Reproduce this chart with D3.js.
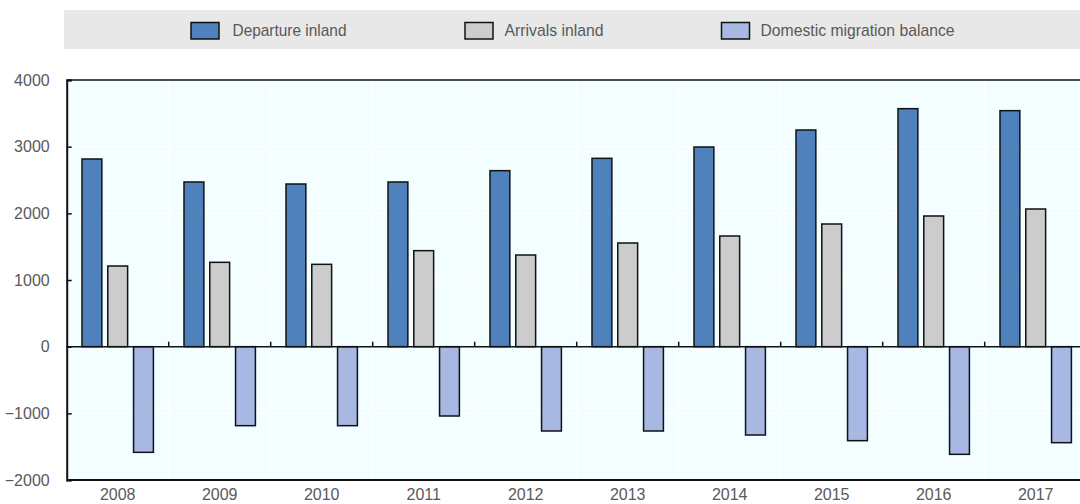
<!DOCTYPE html>
<html>
<head>
<meta charset="utf-8">
<script src="https://cdn.jsdelivr.net/npm/d3@7"></script>
<style>
  html, body { margin: 0; padding: 0; background: #fff; }
  svg { display: block; }
  text { font-family: "Liberation Sans Narrow", "Arial Narrow", "Liberation Sans", Arial, sans-serif; fill: #595959; }
</style>
</head>
<body>
<svg id="chart" width="1080" height="504"></svg>
<script>
const years = ['2008','2009','2010','2011','2012','2013','2014','2015','2016','2017'];
const departure = [2815, 2470, 2440, 2470, 2640, 2825, 2995, 3250, 3570, 3540];
const arrivals  = [1210, 1265, 1235, 1440, 1375, 1555, 1660, 1840, 1960, 2065];
const balance   = [-1585, -1185, -1185, -1040, -1265, -1265, -1325, -1410, -1615, -1440];
const seriesNames = ['Departure inland', 'Arrivals inland', 'Domestic migration balance'];
const seriesColors = ['#4F81BD', '#CCCCCC', '#A7B9E3'];
const yTicks = [-2000, -1000, 0, 1000, 2000, 3000, 4000];

const seriesValues = [departure, arrivals, balance];
const svg = d3.select('#chart');
const FONT = '"Liberation Sans Narrow", "Arial Narrow", "Liberation Sans", Arial, sans-serif';

const L = 66.7, T = 80, B = 480, R = 1086.7;

const x0 = d3.scaleBand().domain(years).range([L, R]).paddingInner(0.3).paddingOuter(0.15);
const x1 = d3.scaleBand().domain(seriesNames).range([0, x0.bandwidth()]).paddingInner(0.23).paddingOuter(0);
const y = d3.scaleLinear().domain([-2000, 4000]).range([B, T]);

// plot background
svg.append('rect').attr('x', L).attr('y', T).attr('width', R - L).attr('height', B - T).attr('fill', '#F2FEFF');

// gridlines
svg.append('g').selectAll('line').data(yTicks.filter(d => d !== 0 && d !== 4000 && d !== -2000)).join('line')
  .attr('x1', L).attr('x2', R).attr('y1', d => y(d)).attr('y2', d => y(d))
  .attr('stroke', '#ffffff').attr('stroke-width', 1.5);
const step = x0.step();
const bounds = years.slice(1).map(yr => x0(yr) - (step - x0.bandwidth()) / 2);
svg.append('g').selectAll('line').data(bounds).join('line')
  .attr('x1', d => d).attr('x2', d => d).attr('y1', T).attr('y2', B)
  .attr('stroke', '#ffffff').attr('stroke-width', 1.5);

// bars
const groups = svg.append('g').selectAll('g').data(years).join('g')
  .attr('transform', d => `translate(${x0(d)},0)`);
groups.selectAll('rect').data((yr, i) => seriesNames.map((s, k) => ({ s, v: seriesValues[k][i], k })))
  .join('rect')
  .attr('x', d => x1(d.s))
  .attr('width', x1.bandwidth())
  .attr('y', d => y(Math.max(0, d.v)))
  .attr('height', d => Math.abs(y(d.v) - y(0)))
  .attr('fill', d => seriesColors[d.k])
  .attr('stroke', '#111')
  .attr('stroke-width', 1.5);

// zero line with small ticks
svg.append('line').attr('x1', L).attr('x2', R).attr('y1', y(0)).attr('y2', y(0))
  .attr('stroke', '#111').attr('stroke-width', 1.5);
svg.append('g').selectAll('line').data(bounds).join('line')
  .attr('x1', d => d).attr('x2', d => d).attr('y1', y(0)).attr('y2', y(0) - 5)
  .attr('stroke', '#111').attr('stroke-width', 1.5);

// frame top / bottom
svg.append('line').attr('x1', L).attr('x2', R).attr('y1', T).attr('y2', T).attr('stroke', '#111').attr('stroke-width', 1.5);
svg.append('line').attr('x1', L).attr('x2', R).attr('y1', B).attr('y2', B).attr('stroke', '#111').attr('stroke-width', 2);

// y axis
const yAxis = d3.axisLeft(y).tickValues(yTicks).tickSize(-5).tickPadding(17).tickFormat(d3.format('d'));
const ya = svg.append('g').attr('transform', `translate(${L},0)`).call(yAxis);
ya.select('.domain').attr('stroke', '#111').attr('stroke-width', 2);
ya.selectAll('.tick line').attr('stroke', '#111').attr('stroke-width', 1.5);
ya.selectAll('.tick text').attr('font-size', 16).attr('fill', '#595959').style('font-family', FONT);

// x axis labels
const xAxis = d3.axisBottom(x0).tickSize(0).tickPadding(9);
const xa = svg.append('g').attr('transform', `translate(0,${B})`).call(xAxis);
xa.select('.domain').remove();
xa.selectAll('.tick text').attr('font-size', 16).attr('fill', '#595959').style('font-family', FONT);

// legend
svg.append('rect').attr('x', 64).attr('y', 10).attr('width', 1080 - 64).attr('height', 39).attr('fill', '#E8E8E8');
const legendSwatchX = [191, 465, 721.5];
const legendTextX = [232.5, 504.5, 760.5];
const legendTextW = [114, 99, 194];
const lg = svg.append('g').selectAll('g').data(seriesNames).join('g');
lg.append('rect')
  .attr('x', (d, i) => legendSwatchX[i]).attr('y', 22.5).attr('width', 28).attr('height', 16.5)
  .attr('fill', (d, i) => seriesColors[i]).attr('stroke', '#111').attr('stroke-width', 1.5);
lg.append('text')
  .attr('x', (d, i) => legendTextX[i]).attr('y', 30.5).attr('dy', '0.35em')
  .attr('font-size', 17)
  .attr('textLength', (d, i) => legendTextW[i]).attr('lengthAdjust', 'spacingAndGlyphs')
  .text(d => d);
</script>
</body>
</html>
